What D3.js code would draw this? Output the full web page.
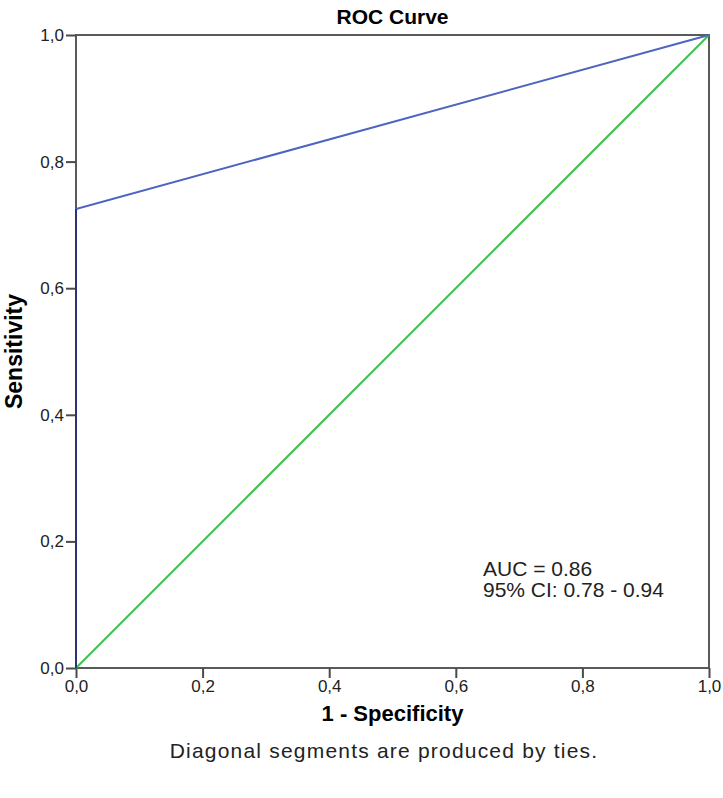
<!DOCTYPE html>
<html>
<head>
<meta charset="utf-8">
<script src="https://cdn.jsdelivr.net/npm/d3@7"></script>
<style>
  body { margin: 0; background: #fff; }
  text { font-family: "Liberation Sans", Arial, sans-serif; }
</style>
</head>
<body>
<div id="chart"></div>
<script>
const fpr = [0, 0, 1];
const tpr = [0, 0.725, 1];
const refX = [0, 1];
const refY = [0, 1];
const ticks = [0, 0.2, 0.4, 0.6, 0.8, 1.0];
const tickLabels = ["0,0", "0,2", "0,4", "0,6", "0,8", "1,0"];
const statLines = ["AUC = 0.86", "95% CI: 0.78 - 0.94"];

const W = 723, H = 798;
const margin = {top: 35, right: 14, bottom: 130, left: 76};
const width = W - margin.left - margin.right;
const height = H - margin.top - margin.bottom;

const svg = d3.select("#chart").append("svg")
  .attr("width", W).attr("height", H);

const g = svg.append("g").attr("transform", `translate(${margin.left},${margin.top})`);

const x = d3.scaleLinear().domain([0, 1]).range([0, width]);
const y = d3.scaleLinear().domain([0, 1]).range([height, 0]);

// frame
g.append("rect")
  .attr("width", width).attr("height", height)
  .attr("fill", "none").attr("stroke", "#5a5a5a").attr("stroke-width", 2);

const xAxis = g.append("g")
  .attr("transform", `translate(0,${height})`)
  .call(d3.axisBottom(x).tickValues(ticks).tickSize(10).tickPadding(2).tickFormat((d, i) => tickLabels[i]));
const yAxis = g.append("g")
  .call(d3.axisLeft(y).tickValues(ticks).tickSize(10).tickPadding(2).tickFormat((d, i) => tickLabels[i]));

[xAxis, yAxis].forEach(a => {
  a.attr("font-size", null).attr("font-family", null);
  a.select(".domain").remove();
  a.selectAll("line").attr("stroke", "#4a4a4a").attr("stroke-width", 2);
  a.selectAll("text").style("font-size", "17px").attr("fill", "#222");
});

// reference line
g.append("path")
  .datum(refX.map((d, i) => [d, refY[i]]))
  .attr("fill", "none").attr("stroke", "#3dbf4a").attr("stroke-width", 2)
  .attr("d", d3.line().x(d => x(d[0])).y(d => y(d[1])));

// ROC curve
g.append("path")
  .datum(fpr.map((d, i) => [d, tpr[i]]))
  .attr("fill", "none").attr("stroke", "#4d65c0").attr("stroke-width", 2)
  .attr("d", d3.line().x(d => x(d[0])).y(d => y(d[1])));

// darker vertical part overlapping the axis
g.append("line")
  .attr("x1", x(0)).attr("x2", x(0))
  .attr("y1", y(0)).attr("y2", y(tpr[1]))
  .attr("stroke", "#2a3570").attr("stroke-width", 2);

// stats
g.selectAll(".stat")
  .data(statLines)
  .enter().append("text")
  .attr("class", "stat")
  .attr("x", 407)
  .attr("y", (d, i) => 541 + i * 21)
  .style("font-size", "21px")
  .attr("fill", "#222")
  .text(d => d);

svg.append("text")
  .attr("x", margin.left + width / 2).attr("y", 24)
  .attr("text-anchor", "middle")
  .style("font-size", "21px").style("font-weight", "bold")
  .text("ROC Curve");

svg.append("text")
  .attr("x", margin.left + width / 2).attr("y", 721)
  .attr("text-anchor", "middle")
  .style("font-size", "22px").style("font-weight", "bold")
  .text("1 - Specificity");

svg.append("text")
  .attr("transform", `translate(22,${margin.top + height / 2}) rotate(-90)`)
  .attr("text-anchor", "middle")
  .style("font-size", "23px").style("font-weight", "bold")
  .text("Sensitivity");

svg.append("text")
  .attr("x", 384).attr("y", 758)
  .attr("text-anchor", "middle")
  .style("font-size", "21px")
  .style("letter-spacing", "1.2px")
  .attr("fill", "#222")
  .text("Diagonal segments are produced by ties.");
</script>
</body>
</html>
